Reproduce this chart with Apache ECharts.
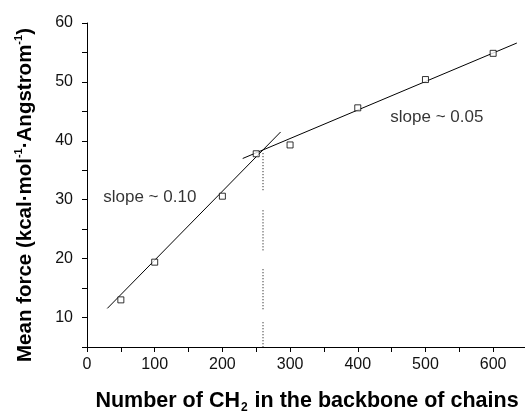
<!DOCTYPE html>
<html>
<head>
<meta charset="utf-8">
<script src="https://cdn.jsdelivr.net/npm/echarts@6/dist/echarts.min.js"></script>
<style>
  html, body { margin: 0; padding: 0; background: #fff; }
  #main { width: 525px; height: 414px; }
</style>
</head>
<body>
<div id="main"></div>
<script>
var chainLength = [50, 100, 200, 250, 300, 400, 500, 600];
var meanForce = [13.0, 19.4, 30.6, 37.8, 39.3, 45.6, 50.4, 54.85];

// the two linear fits, end points
var fitShort = [[30, 11.55], [286, 41.5]];
var fitLong = [[230, 37.0], [635, 56.6]];

// dotted drop line at the crossover (pieces, the original has gaps)
var crossX = 260;
var dropParts = [[37.9, 31.3], [28.2, 21.1], [18.2, 11.3], [9.2, 5]];

// annotations: x, y, text
var notes = [[24, 30.4, 'slope ~ 0.10'], [448, 44, 'slope ~ 0.05']];

// labelled ticks
var xTickLabels = [0, 100, 200, 300, 400, 500, 600];
var yTickLabels = [10, 20, 30, 40, 50, 60];

var font = "'Liberation Sans', Arial, sans-serif";
var ink = '#000';

var chart = echarts.init(document.getElementById('main'));

var series = [];
series.push({
  type: 'line',
  data: fitShort,
  showSymbol: false,
  silent: true,
  lineStyle: { color: ink, width: 1 },
  z: 2
});
series.push({
  type: 'line',
  data: fitLong,
  showSymbol: false,
  silent: true,
  lineStyle: { color: ink, width: 1 },
  z: 2
});
dropParts.forEach(function (p) {
  series.push({
    type: 'line',
    data: [[crossX, p[0]], [crossX, p[1]]],
    showSymbol: false,
    silent: true,
    lineStyle: { color: ink, width: 1, type: [1, 2] },
    z: 1
  });
});
series.push({
  type: 'scatter',
  data: chainLength.map(function (x, i) { return [x, meanForce[i]]; }),
  symbol: 'rect',
  symbolSize: 6,
  itemStyle: { color: '#fff', borderColor: ink, borderWidth: 1 },
  z: 5
});
series.push({
  type: 'scatter',
  data: notes.map(function (n) { return { value: [n[0], n[1]], name: n[2] }; }),
  symbolSize: 0,
  silent: true,
  label: {
    show: true,
    position: 'right',
    distance: 0,
    formatter: '{b}',
    color: ink,
    fontFamily: font,
    fontSize: 17
  }
});

chart.setOption({
  animation: false,
  backgroundColor: '#fff',
  grid: { left: 87, right: -2, top: 23, bottom: 67, outerBoundsMode: 'none', containLabel: false },
  xAxis: {
    type: 'value',
    min: 0,
    max: 650,
    interval: 50,
    splitLine: { show: false },
    axisLine: { lineStyle: { color: ink, width: 1 } },
    axisTick: { length: 5, lineStyle: { color: ink } },
    axisLabel: {
      margin: 10,
      color: '#111',
      fontFamily: font,
      fontSize: 16,
      showMaxLabel: false,
      formatter: function (v) { return xTickLabels.indexOf(v) >= 0 ? String(v) : ''; }
    },
    name: '{b|Number of CH}{sub|2}{b| in the backbone of chains}',
    nameLocation: 'middle',
    nameGap: 41,
    nameTextStyle: {
      color: ink,
      fontFamily: font,
      fontWeight: 'bold',
      fontSize: 21.5,
      rich: {
        b: { fontFamily: font, fontWeight: 'bold', fontSize: 21.5, color: ink, lineHeight: 26 },
        sub: { fontFamily: font, fontWeight: 'bold', fontSize: 12, color: ink, lineHeight: 26, verticalAlign: 'bottom', padding: [0, 1, 0, 1] }
      }
    }
  },
  yAxis: {
    type: 'value',
    min: 5,
    max: 60,
    interval: 5,
    splitLine: { show: false },
    axisLine: { show: true, lineStyle: { color: ink, width: 1 } },
    axisTick: { show: true, length: 5, lineStyle: { color: ink } },
    axisLabel: {
      margin: 14,
      color: '#111',
      fontFamily: font,
      fontSize: 16,
      formatter: function (v) { return yTickLabels.indexOf(v) >= 0 ? String(v) : ''; }
    },
    name: '{b|Mean force (kcal·mol}{sup|-1}{b|·Angstrom}{sup|-1}{b|)}',
    nameLocation: 'middle',
    nameGap: 50,
    nameTextStyle: {
      color: ink,
      fontFamily: font,
      fontWeight: 'bold',
      fontSize: 20.5,
      padding: [0, 20, 0, 0],
      rich: {
        b: { fontFamily: font, fontWeight: 'bold', fontSize: 20.5, color: ink, lineHeight: 24 },
        sup: { fontFamily: font, fontWeight: 'bold', fontSize: 11, color: ink, lineHeight: 24, verticalAlign: 'top' }
      }
    }
  },
  series: series
});
</script>
</body>
</html>
